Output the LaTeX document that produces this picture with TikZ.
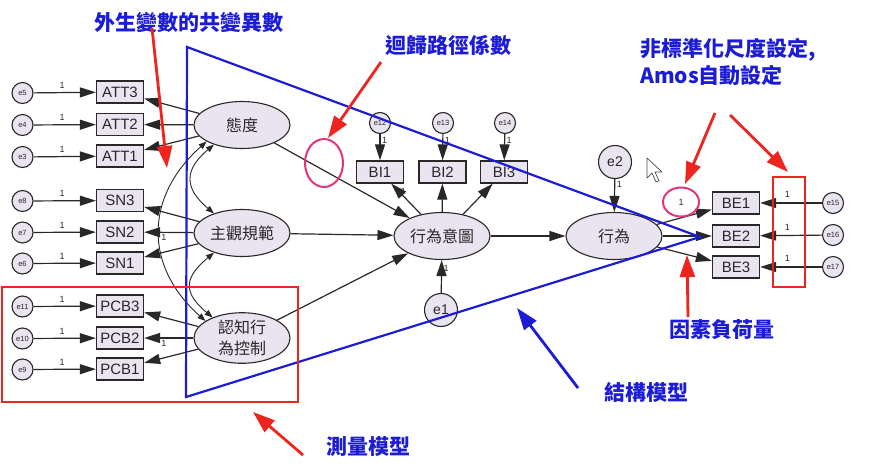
\documentclass[tikz,border=0pt]{standalone}
\usepackage{fontspec}
\setmainfont{Liberation Sans}
\newfontfamily\cjk{Noto Sans CJK TC}
\usetikzlibrary{arrows.meta,shapes.geometric}
\definecolor{latfill}{RGB}{234,228,240}
\definecolor{bl}{RGB}{28,28,215}
\definecolor{rd}{RGB}{238,36,30}
\definecolor{pk}{RGB}{226,52,122}
\definecolor{ink}{RGB}{40,40,40}
\begin{document}
\begin{tikzpicture}[x=1pt,y=-1pt,
  lat/.style={ellipse,draw=ink,line width=1.1pt,fill=latfill,minimum width=96pt,minimum height=47pt,inner sep=0pt,text=ink,font=\cjk\fontsize{16}{21}\selectfont,align=center},
  obs/.style={rectangle,draw=ink,line width=1.3pt,fill=latfill,minimum width=47pt,minimum height=22pt,inner sep=0pt,text=ink,font=\fontsize{15}{15}\selectfont},
  err/.style={circle,draw=ink,line width=1.1pt,fill=latfill,minimum size=21pt,inner sep=0pt,text=ink,font=\fontsize{7.5}{7.5}\selectfont},
  bigerr/.style={err,minimum size=33pt,font=\fontsize{14}{14}\selectfont},
  reg/.style={draw=ink,line width=1.2pt,-{Triangle[length=16pt,width=10pt]}},
  cov/.style={draw=ink,line width=0.9pt,{Triangle[length=8pt,width=6pt]}-{Triangle[length=8pt,width=6pt]}},
  lbl/.style={font=\fontsize{9}{9}\selectfont,text=ink,inner sep=1.5pt},
  title/.style={font=\cjk\bfseries\fontsize{21}{26}\selectfont,text=bl,inner sep=0pt},
  redarr/.style={draw=rd,line width=2.8pt,-{Triangle[length=22pt,width=15pt]}},
  bluearr/.style={draw=bl,line width=2.8pt,-{Triangle[length=22pt,width=15pt]}},
  pink/.style={ellipse,draw=pk,line width=2pt,inner sep=0pt}
]
\useasboundingbox (0,0) rectangle (874,469);

% ---------- left measurement part ----------
\node[obs] (ATT3) at (120,92) {ATT3};
\node[obs] (ATT2) at (120,124.5) {ATT2};
\node[obs] (ATT1) at (120,156) {ATT1};
\node[obs] (SN3) at (120,200.5) {SN3};
\node[obs] (SN2) at (120,232) {SN2};
\node[obs] (SN1) at (120,263) {SN1};
\node[obs] (PCB3) at (120,306) {PCB3};
\node[obs] (PCB2) at (120,338) {PCB2};
\node[obs] (PCB1) at (120,369) {PCB1};

\node[err] (e5) at (22.5,93) {e5};
\node[err] (e4) at (22.5,125) {e4};
\node[err] (e3) at (22.5,157) {e3};
\node[err] (e8) at (22.5,201) {e8};
\node[err] (e7) at (22.5,232.5) {e7};
\node[err] (e6) at (22.5,263.5) {e6};
\node[err] (e11) at (22.5,306.5) {e11};
\node[err] (e10) at (22.5,338.5) {e10};
\node[err] (e9) at (22.5,369.5) {e9};

\foreach \e/\b in {e5/ATT3,e4/ATT2,e3/ATT1,e8/SN3,e7/SN2,e6/SN1,e11/PCB3,e10/PCB2,e9/PCB1}
  \draw[reg] (\e) -- node[lbl,pos=0.46,above=2pt]{1} (\b);

\node[lat] (att) at (242,125) {態度};
\node[lat] (sn) at (242,233) {主觀規範};
\node[lat] (pcb) at (242,338) {認知行\\為控制};

\draw[reg] (att) -- (ATT3);
\draw[reg] (att) -- (ATT2);
\draw[reg] (att) -- (ATT1);
\draw[reg] (sn) -- (SN3);
\draw[reg] (sn) -- node[lbl,pos=0.6,below]{1} (SN2);
\draw[reg] (sn) -- (SN1);
\draw[reg] (pcb) -- (PCB3);
\draw[reg] (pcb) -- node[lbl,pos=0.6,below]{1} (PCB2);
\draw[reg] (pcb) -- (PCB1);

% covariances
\draw[cov] (att.215) .. controls +(-30,25) and +(-30,-25) .. (sn.145);
\draw[cov] (sn.215) .. controls +(-30,25) and +(-30,-25) .. (pcb.145);
\draw[cov] (att.205) .. controls +(-62,55) and +(-62,-55) .. (pcb.155);

% ---------- structural part ----------
\node[lat] (bi) at (442,236) {行為意圖};
\node[lat] (beh) at (614,236) {行為};
\node[obs] (BI1) at (380,172) {BI1};
\node[obs] (BI2) at (442.5,172) {BI2};
\node[obs] (BI3) at (504,172) {BI3};
\node[err] (e12) at (380,123) {e12};
\node[err] (e13) at (443,123) {e13};
\node[err] (e14) at (505,123) {e14};
\node[bigerr] (e1) at (441,310) {e1};
\node[bigerr] (e2) at (615,162) {e2};
\node[obs] (BE1) at (736,203) {BE1};
\node[obs] (BE2) at (736,236) {BE2};
\node[obs] (BE3) at (736,267) {BE3};
\node[err] (e15) at (833,203) {e15};
\node[err] (e16) at (833,235) {e16};
\node[err] (e17) at (833,267) {e17};

\draw[reg] (att) -- (bi);
\draw[reg] (sn) -- (bi);
\draw[reg] (pcb) -- (bi);
\draw[reg] (bi) -- node[lbl,pos=0.75,right]{1} (BI1);
\draw[reg] (bi) -- (BI2);
\draw[reg] (bi) -- (BI3);
\draw[reg] (e12) -- node[lbl,pos=0.25,right]{1} (BI1);
\draw[reg] (e13) -- node[lbl,pos=0.25,right]{1} (BI2);
\draw[reg] (e14) -- node[lbl,pos=0.25,right]{1} (BI3);
\draw[reg] (e1) -- node[lbl,pos=0.75,right]{1} (bi);
\draw[reg] (bi) -- (beh);
\draw[reg] (e2) -- node[lbl,pos=0.15,right]{1} (beh);
\draw[reg] (beh) -- (BE1);
\draw[reg] (beh) -- (BE2);
\draw[reg] (beh) -- (BE3);
\draw[reg] (e15) -- node[lbl,pos=0.56,above=3pt]{1} (BE1);
\draw[reg] (e16) -- node[lbl,pos=0.56,above=3pt]{1} (BE2);
\draw[reg] (e17) -- node[lbl,pos=0.56,above=3pt]{1} (BE3);

% ---------- annotations ----------
\draw[bl,line width=2.2pt,line join=miter] (187,47) -- (186,397) -- (700,237) -- cycle;
\draw[rd,line width=2pt] (2,287) rectangle (298,402);
\draw[rd,line width=2pt] (773,177) rectangle (805,287);
\node[pink,minimum width=38pt,minimum height=48pt] (pk1) at (324,163) {};
\node[pink,minimum width=36pt,minimum height=29pt,font=\fontsize{9}{9}\selectfont,text=ink] (pk2) at (681,202) {1};

% mouse cursor
\draw[gray!60!black,fill=white,line width=0.7pt,line join=round] (647,158) -- ++(0,20) -- ++(5,-5) -- ++(4,9) -- ++(3,-1.5) -- ++(-4,-8.5) -- ++(7,0) -- cycle;

\node[title] (t1) at (189,22) {外生變數的共變異數};
\node[title] (t2) at (448,45) {迴歸路徑係數};
\node[title,anchor=west] (t3a) at (640,50) {非標準化尺度設定,};
\node[title,anchor=west] (t3b) at (640,75) {Amos自動設定};
\node[title] (t4) at (722,330) {因素負荷量};
\node[title] (t5) at (646,392) {結構模型};
\node[title] (t6) at (368,447) {測量模型};

\coordinate (a1s) at (152,28);  \coordinate (a1t) at (167,168);
\coordinate (a2s) at (381,62);  \coordinate (a2t) at (328,138);
\coordinate (a3s) at (715,113); \coordinate (a3t) at (685,184);
\coordinate (a4s) at (730,115); \coordinate (a4t) at (788,172);
\coordinate (a5s) at (688,317); \coordinate (a5t) at (687,255);
\coordinate (a6s) at (303,455); \coordinate (a6t) at (253,412);
\coordinate (b1s) at (578,388); \coordinate (b1t) at (517,308);
\draw[redarr] (a1s) -- (a1t);
\draw[redarr] (a2s) -- (a2t);
\draw[redarr] (a3s) -- (a3t);
\draw[redarr] (a4s) -- (a4t);
\draw[redarr] (a5s) -- (a5t);
\draw[redarr] (a6s) -- (a6t);
\draw[bluearr] (b1s) -- (b1t);
\end{tikzpicture}
\end{document}
